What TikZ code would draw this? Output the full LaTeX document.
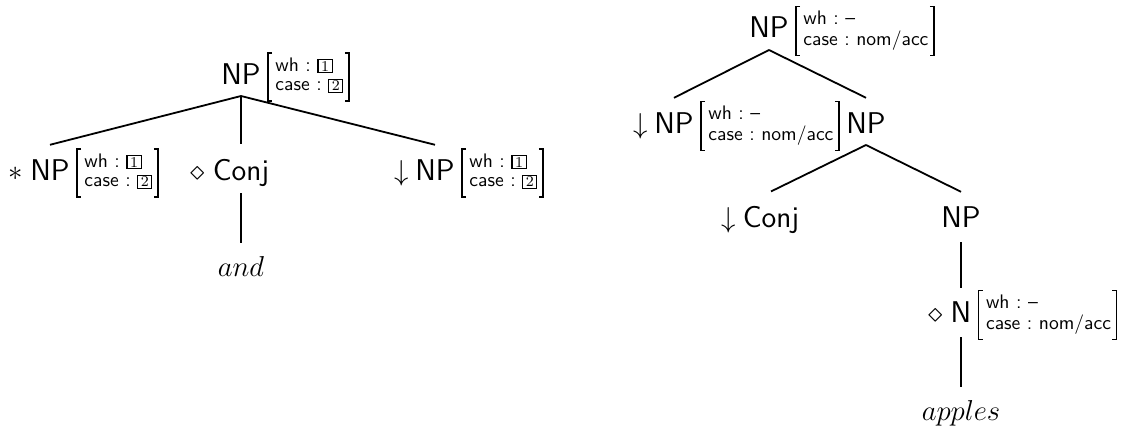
\documentclass[tikz,border=0pt]{standalone}
\usepackage{fontspec}
\setlength{\fboxsep}{0.5pt}
\setlength{\fboxrule}{0.55pt}
\newcommand{\bxn}[1]{\fbox{\makebox[5.5pt]{\rmfamily\fontsize{7.5}{7.5}\selectfont #1}}}
\newcommand{\avmbrk}[1]{%
  \draw[brk] ([xshift=-1.5pt,yshift=2pt]#1.north west) -- ([xshift=-3.5pt,yshift=2pt]#1.north west)
    -- ([xshift=-3.5pt,yshift=-2pt]#1.south west) -- ([xshift=-1.5pt,yshift=-2pt]#1.south west);
  \draw[brk] ([xshift=0.5pt,yshift=2pt]#1.north east) -- ([xshift=2.5pt,yshift=2pt]#1.north east)
    -- ([xshift=2.5pt,yshift=-2pt]#1.south east) -- ([xshift=0.5pt,yshift=-2pt]#1.south east);}
\tikzset{
  cat/.style={inner sep=0pt, anchor=base, font=\fontsize{15}{18}\selectfont\sffamily},
  pre/.style={inner sep=0pt, anchor=base east, font=\fontsize{15}{18}\selectfont},
  avm/.style={inner sep=0pt, anchor=west, font=\fontsize{9.8}{9.8}\selectfont\sffamily},
  leaf/.style={inner sep=0pt, anchor=base, font=\fontsize{15}{18}\selectfont},
  edge/.style={line width=0.9pt},
  brk/.style={line width=0.7pt}
}
\begin{document}
\begin{tikzpicture}[x=0.5pt,y=-0.5pt]
\useasboundingbox (0,0) rectangle (1126,428);
% ---------------- left tree ----------------
\node[cat] (L0) at (241,84) {NP};
\node[avm] (L0a) at ([xshift=7pt,yshift=3.5pt]L0.base east)
  {\begin{tabular}{@{}l@{}}wh~:~\bxn{1}\\ case~:~\bxn{2}\end{tabular}};
\avmbrk{L0a}
\node[cat] (L1) at (50,180) {NP};
\node[pre] (L1p) at ([xshift=-3.5pt]L1.base west) {$\ast$};
\node[avm] (L1a) at ([xshift=7pt,yshift=3.5pt]L1.base east)
  {\begin{tabular}{@{}l@{}}wh~:~\bxn{1}\\ case~:~\bxn{2}\end{tabular}};
\avmbrk{L1a}
\node[cat] (L2) at (241,180) {Conj};
\node[pre] (L2p) at ([xshift=-3.5pt]L2.base west) {$\diamond$};
\node[cat] (L3) at (435,180) {NP};
\node[pre] (L3p) at ([xshift=-3pt]L3.base west) {$\downarrow$};
\node[avm] (L3a) at ([xshift=7pt,yshift=3.5pt]L3.base east)
  {\begin{tabular}{@{}l@{}}wh~:~\bxn{1}\\ case~:~\bxn{2}\end{tabular}};
\avmbrk{L3a}
\node[leaf] (L4) at (241,276) {$and$};
\draw[edge] ([yshift=-6pt]L0.base) -- ([yshift=7pt]L1.north);
\draw[edge] ([yshift=-6pt]L0.base) -- ([yshift=7pt]L2.north);
\draw[edge] ([yshift=-6pt]L0.base) -- ([yshift=7pt]L3.north);
\draw[edge] ([yshift=-6.5pt]L2.base) -- ([yshift=6.5pt]L4.north);
% ---------------- right tree ----------------
\node[cat] (R0) at (769,38) {NP};
\node[avm] (R0a) at ([xshift=7pt,yshift=3.5pt]R0.base east)
  {\begin{tabular}{@{}l@{}}wh~:~--\\ case~:~nom/acc\end{tabular}};
\avmbrk{R0a}
\node[cat] (R1) at (674,133) {NP};
\node[pre] (R1p) at ([xshift=-3pt]R1.base west) {$\downarrow$};
\node[avm] (R1a) at ([xshift=7pt,yshift=3.5pt]R1.base east)
  {\begin{tabular}{@{}l@{}}wh~:~--\\ case~:~nom/acc\end{tabular}};
\avmbrk{R1a}
\node[cat] (R2) at (866,133) {NP};
\node[cat] (R3) at (771,227) {Conj};
\node[pre] (R3p) at ([xshift=-3pt]R3.base west) {$\downarrow$};
\node[cat] (R4) at (961,227) {NP};
\node[cat] (R5) at (961,322) {N};
\node[pre] (R5p) at ([xshift=-3.5pt]R5.base west) {$\diamond$};
\node[avm] (R5a) at ([xshift=7pt,yshift=3.5pt]R5.base east)
  {\begin{tabular}{@{}l@{}}wh~:~--\\ case~:~nom/acc\end{tabular}};
\avmbrk{R5a}
\node[leaf] (R6) at (961,420) {$apples$};
\draw[edge] ([yshift=-6pt]R0.base) -- ([yshift=7pt]R1.north);
\draw[edge] ([yshift=-6pt]R0.base) -- ([yshift=7pt]R2.north);
\draw[edge] ([yshift=-6pt]R2.base) -- ([yshift=7pt]R3.north);
\draw[edge] ([yshift=-6pt]R2.base) -- ([yshift=7pt]R4.north);
\draw[edge] ([yshift=-7.5pt]R4.base) -- ([yshift=6.5pt]R5.north);
\draw[edge] ([yshift=-7.5pt]R5.base) -- ([yshift=6.5pt]R6.north);
\end{tikzpicture}
\end{document}
